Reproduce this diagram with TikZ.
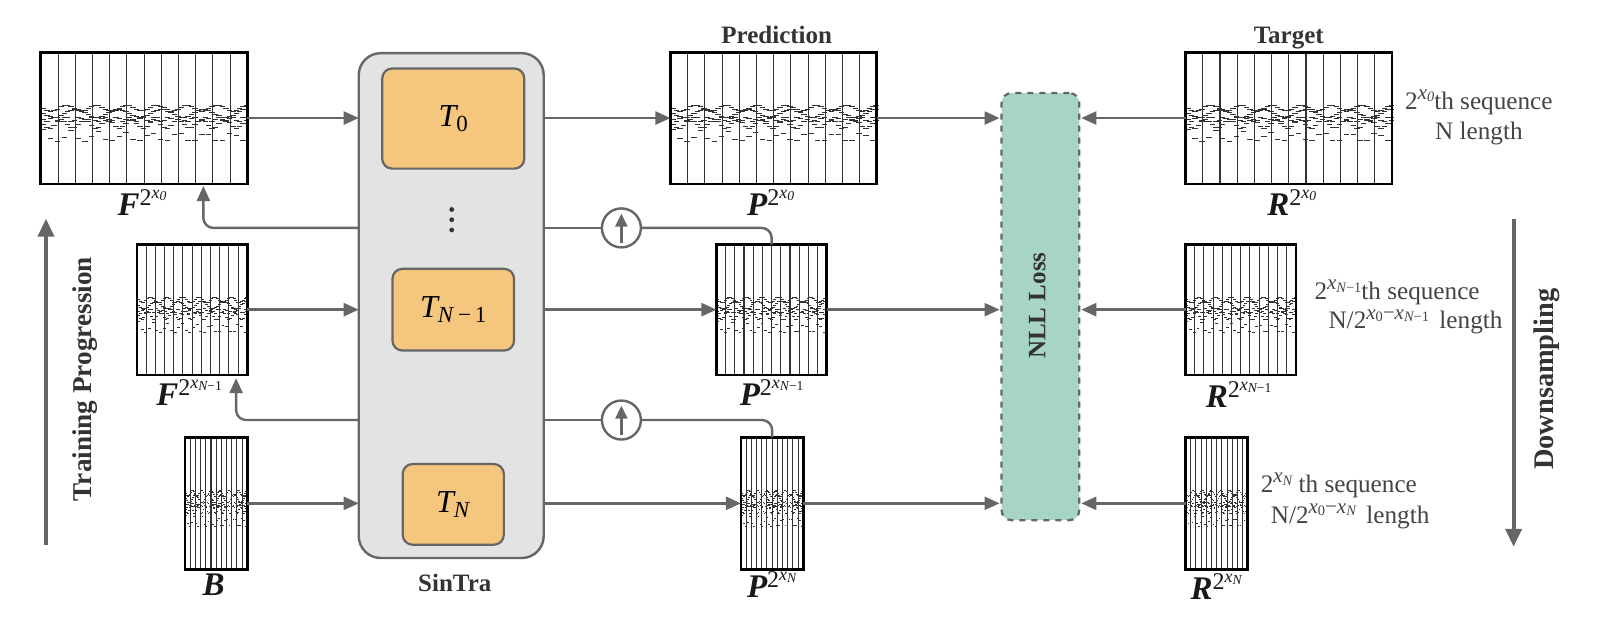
\documentclass[tikz,border=0pt]{standalone}
\usepackage{fontspec}
\setmainfont{Liberation Serif}
\usetikzlibrary{arrows.meta,calc}
\definecolor{lnc}{HTML}{666666}
\definecolor{txc}{HTML}{444444}
\definecolor{hdc}{HTML}{333333}
\definecolor{grayfill}{HTML}{E3E3E3}
\definecolor{orangefill}{HTML}{F5C67E}
\definecolor{tealfill}{HTML}{A6D5C8}
\tikzset{
  x=0.511pt,y=-0.511pt,
  rollbox/.style={draw=black,line width=1.4pt,inner sep=0,outer sep=0},
  barline/.style={draw=hdc,line width=0.55pt},
  noteline/.style={draw=black!80,line width=0.45pt},
  conn/.style={draw=lnc,line width=1.2pt},
  arr/.style={conn,-{Triangle[length=7.5pt,width=6.5pt]}},
  bigarr/.style={draw=lnc,line width=2pt,-{Triangle[length=9pt,width=8pt]}},
  tbox/.style={draw=lnc,line width=1.1pt,fill=orangefill,rounded corners=5pt,inner sep=0,outer sep=0},
  upc/.style={circle,draw=lnc,line width=1.2pt,fill=white,minimum size=19.5pt,inner sep=0,outer sep=0},
  hd/.style={text=hdc,font=\fontsize{12.5}{14}\selectfont\bfseries,inner sep=0},
  seq/.style={text=txc,font=\fontsize{12.6}{15}\selectfont,inner sep=0},
  lab/.style={anchor=base,inner sep=0,text=black!90},
}
\newcommand\biglab[2]{{\fontsize{16.5}{18}\selectfont\bfseries\itshape #1}\raisebox{5pt}{\fontsize{12}{12}\selectfont 2\raisebox{3.8pt}{\fontsize{9}{9}\selectfont\itshape x\raisebox{-1.2pt}{\fontsize{6.8}{7}\selectfont #2}}}}
\newcommand\sx[1]{\raisebox{4.8pt}{\fontsize{10.5}{10}\selectfont\itshape x\raisebox{-1.2pt}{\fontsize{7.2}{7}\selectfont #1}}}
\newcommand\nmo{\textit{N}\upshape−1}
\newcommand\sxx[1]{\raisebox{4.8pt}{\fontsize{10.5}{10}\selectfont\itshape x\raisebox{-1.2pt}{\fontsize{7.2}{7}\selectfont\upshape 0}\upshape−\itshape x\raisebox{-1.2pt}{\fontsize{7.2}{7}\selectfont #1}}}
\newcommand\tlab[2]{{\fontsize{16}{16}\selectfont\itshape T}\raisebox{-2.6pt}{\fontsize{11.5}{12}\selectfont #2}}
\newcommand\roll[5]{%
  \foreach \k in {1,...,11}{
    \pgfmathsetmacro\bx{#2+(#4-#2)*\k/12}
    \draw[barline] (\bx,#3) -- (\bx,#5);
  }
  \foreach \i in {0,...,59}{
    \pgfmathsetmacro\nx{#2+(#4-#2)*\i/60}
    \pgfmathsetmacro\nl{(#4-#2)/38}
    \foreach \b/\a/\f in {.425/.022/41,.465/.03/29,.51/.018/97,.545/.032/53}{
      \pgfmathsetmacro\ny{#3+(#5-#3)*(\b+\a*sin(\f*\i))}
      \draw[noteline] (\nx,\ny) -- ++(\nl,0);
    }
    \ifodd\i\else
      \pgfmathsetmacro\ny{#3+(#5-#3)*(.59+.085*abs(sin(23*\i)))}
      \draw[noteline] (\nx,\ny) -- ++(\nl,0);
    \fi
  }
  \node[rollbox,minimum width={(#4-#2)*0.511pt},minimum height={(#5-#3)*0.511pt}] (#1) at ({(#2+#4)/2},{(#3+#5)/2}) {};
}
\begin{document}
\begin{tikzpicture}
\useasboundingbox (0,0) rectangle (1567.5,610.6);
% SinTra block
\node[draw=lnc,line width=1.2pt,fill=grayfill,rounded corners=11pt,inner sep=0,outer sep=0,minimum width={181*0.511pt},minimum height={494*0.511pt}] (sintra) at (441.5,299) {};
\node[tbox,minimum width={139*0.511pt},minimum height={98*0.511pt}] (T0) at (443.5,116) {\tlab{T}{0}};
\node[tbox,minimum width={119*0.511pt},minimum height={80*0.511pt}] (T1) at (443.5,303) {\tlab{T}{\textit{N}\,−\,1}};
\node[tbox,minimum width={99*0.511pt},minimum height={79*0.511pt}] (T2) at (443.5,493.5) {\tlab{T}{\textit{N}}};
\foreach \dy/\nm in {205/a,215/b,225/c}{
  \node[circle,fill=hdc,minimum size=2.4pt,inner sep=0] (dot\nm) at (442,\dy) {};
}
\node[hd] (sintralab) at (445,570) {SinTra};
% NLL
\node[draw=lnc,line width=1.1pt,dashed,fill=tealfill,rounded corners=5pt,inner sep=0,outer sep=0,minimum width={76*0.511pt},minimum height={418*0.511pt}] (nll) at (1018,300) {};
\node[hd,rotate=90] (nlllab) at (1015,299) {NLL Loss};
% rolls
\roll{F0}{40}{51}{242}{180}
\roll{F1}{134}{239}{242}{367}
\roll{B}{181}{428}{242}{557}
\roll{P0}{656}{51}{858}{180}
\roll{P1}{701}{239}{809}{367}
\roll{P2}{725}{428}{786}{557}
\roll{R0}{1160}{51}{1362}{180}
\roll{R1}{1160}{239}{1268}{367}
\roll{R2}{1160}{428}{1221}{557}
% headers
\node[hd,anchor=base] (predlab) at (760,43) {Prediction};
\node[hd,anchor=base] (targlab) at (1261,43) {Target};
% roll labels
\node[lab] (lF0) at (139,211) {\biglab{F}{0}};
\node[lab] (lF1) at (185,397) {\biglab{F}{\nmo}};
\node[lab] (lB) at (209,583) {{\fontsize{16.5}{18}\selectfont\bfseries\itshape B}};
\node[lab] (lP0) at (754,211) {\biglab{P}{0}};
\node[lab] (lP1) at (755,397) {\biglab{P}{\nmo}};
\node[lab] (lP2) at (755,585) {\biglab{P}{\textit{N}}};
\node[lab] (lR0) at (1264,211) {\biglab{R}{0}};
\node[lab] (lR1) at (1212,399) {\biglab{R}{\nmo}};
\node[lab] (lR2) at (1190,587) {\biglab{R}{\textit{N}}};
% upsample circles
\node[upc] (up1) at (608,223) {};
\node[upc] (up2) at (608,411) {};
\draw[conn] (up1.west -| sintra.east) -- (up1.west);
\draw[conn] (up2.west -| sintra.east) -- (up2.west);
\draw[conn,rounded corners=5pt] (up1.east) -| (P1.north);
\draw[conn,rounded corners=5pt] (up2.east) -| (P2.north);
\draw[conn,-{Triangle[length=6.5pt,width=6pt]}] ($(up1.center)+(0,15)$) -- ($(up1.center)+(0,-14)$);
\draw[conn,-{Triangle[length=6.5pt,width=6pt]}] ($(up2.center)+(0,15)$) -- ($(up2.center)+(0,-14)$);
% elbows
\coordinate (f0in) at (199,182);
\coordinate (f1in) at (231,370);
\draw[arr,rounded corners=5pt] (up1 -| sintra.west) -| (f0in);
\draw[arr,rounded corners=5pt] (up2 -| sintra.west) -| (f1in);
% horizontal arrows
\draw[arr] (F0.east) -- (F0.east -| sintra.west);
\draw[arr] (F1.east) -- (F1.east -| sintra.west);
\draw[arr] (B.east) -- (B.east -| sintra.west);
\draw[arr] (P0.west -| sintra.east) -- (P0.west);
\draw[arr] (P1.west -| sintra.east) -- (P1.west);
\draw[arr] (P2.west -| sintra.east) -- (P2.west);
\draw[arr] (P0.east) -- ($(P0.east -| nll.west)+(-2,0)$);
\draw[arr] (P1.east) -- ($(P1.east -| nll.west)+(-2,0)$);
\draw[arr] (P2.east) -- ($(P2.east -| nll.west)+(-2,0)$);
\draw[arr] (R0.west) -- ($(R0.west -| nll.east)+(2,0)$);
\draw[arr] (R1.west) -- ($(R1.west -| nll.east)+(2,0)$);
\draw[arr] (R2.west) -- ($(R2.west -| nll.east)+(2,0)$);
% side arrows
\coordinate (tpa) at (45,533);
\coordinate (tpb) at (45,214);
\coordinate (dsa) at (1481,214);
\coordinate (dsb) at (1481,535);
\draw[bigarr] (tpa) -- (tpb);
\draw[bigarr] (dsa) -- (dsb);
\node[hd,rotate=90,font=\fontsize{13.6}{15}\selectfont\bfseries] (tplab) at (83,371) {Training Progression};
\node[hd,rotate=90,font=\fontsize{14.2}{15}\selectfont\bfseries] (dslab) at (1513,371) {Downsampling};
% sequence text
\node[seq] (s0a) at (1447,100) {2\sx{0}th sequence};
\node[seq] (s0b) at (1447,131) {N length};
\node[seq] (s1a) at (1367,286) {2\sx{\textit{N}\upshape−1}th sequence};
\node[seq] (s1b) at (1385,315) {N/2\sxx{\textit{N}\upshape−1} \,length};
\node[seq] (s2a) at (1310,475) {2\sx{\textit{N}} th sequence};
\node[seq] (s2b) at (1321,505) {N/2\sxx{\textit{N}} \,length};
\end{tikzpicture}
\end{document}
